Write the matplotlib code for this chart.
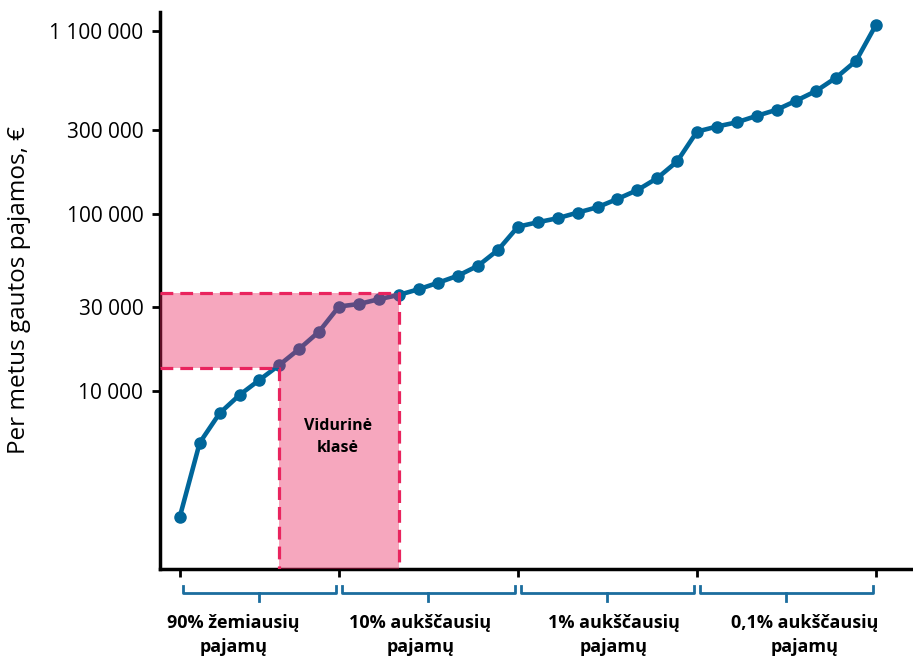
import matplotlib
matplotlib.use("Agg")
import matplotlib.pyplot as plt
import matplotlib.transforms as mtransforms

# metinės pajamos pagal pajamų grupę
income = [1940, 5090, 7480, 9490, 11550, 14030, 17300, 21700, 30100, 31100,
          33100, 35000, 37700, 41100, 45100, 51300, 63000, 85300, 90400, 95300,
          102500, 110000, 122500, 137400, 160700, 199700, 295000, 315000, 333000,
          362000, 392000, 442000, 502000, 597000, 743000, 1189000]
positions = list(range(len(income)))

group_ticks = [0, 8, 17, 26, 35]
group_labels = ["90% žemiausių\npajamų", "10% aukščausių\npajamų",
                "1% aukščausių\npajamų", "0,1% aukščausių\npajamų"]
group_label_x = [2.7, 12.1, 21.8, 31.4]

ytick_values = [10000, 30000, 100000, 300000, 1100000]
ytick_labels = ["10 000", "30 000", "100 000", "300 000", "1 100 000"]

middle_x = [5, 11]
middle_y = [13500, 36000]

blue = "#00669a"
pink = "#e9245e"

plt.rcParams["font.family"] = ["Open Sans", "DejaVu Sans"]

fig = plt.figure(figsize=(9.13, 6.56), dpi=100)
ax = fig.add_axes([0.1752, 0.1326, 0.8248, 0.8496])

ax.plot(positions, income, color=blue, lw=3.3, marker="o", ms=8, zorder=2)

ax.set_yscale("log")
ax.set_xlim(-1.0, 36.86)
ax.set_ylim(980, 1.41e6)

xl = ax.get_xlim()[0]
yb = ax.get_ylim()[0]
# vidurinės klasės sritis
poly_x = [xl, middle_x[0], middle_x[0], middle_x[1], middle_x[1], xl]
poly_y = [middle_y[0], middle_y[0], yb, yb, middle_y[1], middle_y[1]]
ax.fill(poly_x, poly_y, color=pink, alpha=0.4, lw=0, zorder=3)
dash = dict(color=pink, lw=2.3, dashes=(4, 2.2), zorder=4)
ax.plot([xl, middle_x[0], middle_x[0]], [middle_y[0], middle_y[0], yb], **dash)
ax.plot([xl, middle_x[1], middle_x[1]], [middle_y[1], middle_y[1], yb], **dash)
ax.text(sum(middle_x) / 2 - 0.05, 5500, "Vidurinė\nklasė", ha="center", va="center",
        fontsize=11.5, fontweight="bold", linespacing=1.5, zorder=5)

ax.set_yticks(ytick_values)
ax.set_yticklabels(ytick_labels)
ax.yaxis.set_minor_locator(matplotlib.ticker.NullLocator())
ax.set_xticks(group_ticks)
ax.set_xticklabels([])
ax.tick_params(axis="both", width=2, length=6, labelsize=15, color="black")
ax.tick_params(axis="y", pad=6)

for s in ["top", "right"]:
    ax.spines[s].set_visible(False)
for s in ["left", "bottom"]:
    ax.spines[s].set_linewidth(2.5)

ax.set_ylabel("Per metus gautos pajamos, €", fontsize=17.5)
ax.yaxis.set_label_coords(-0.171, 0.5)

# skliaustai po x ašimi
trans = mtransforms.blended_transform_factory(ax.transData, ax.transAxes)
for i, lab in enumerate(group_labels):
    a = group_ticks[i] + 0.15
    b = group_ticks[i + 1] - 0.15
    c = (group_ticks[i] + group_ticks[i + 1]) / 2
    ax.plot([a, a, b, b], [-0.030, -0.043, -0.043, -0.030], color="#1b6d9e",
            lw=2, transform=trans, clip_on=False, solid_joinstyle="round")
    ax.plot([c, c], [-0.043, -0.058], color="#1b6d9e", lw=2,
            transform=trans, clip_on=False)
    ax.text(group_label_x[i], -0.118, lab, transform=trans, ha="center", va="center",
            fontsize=13, fontweight="bold", linespacing=1.45)

fig.savefig("out.png", dpi=100)
